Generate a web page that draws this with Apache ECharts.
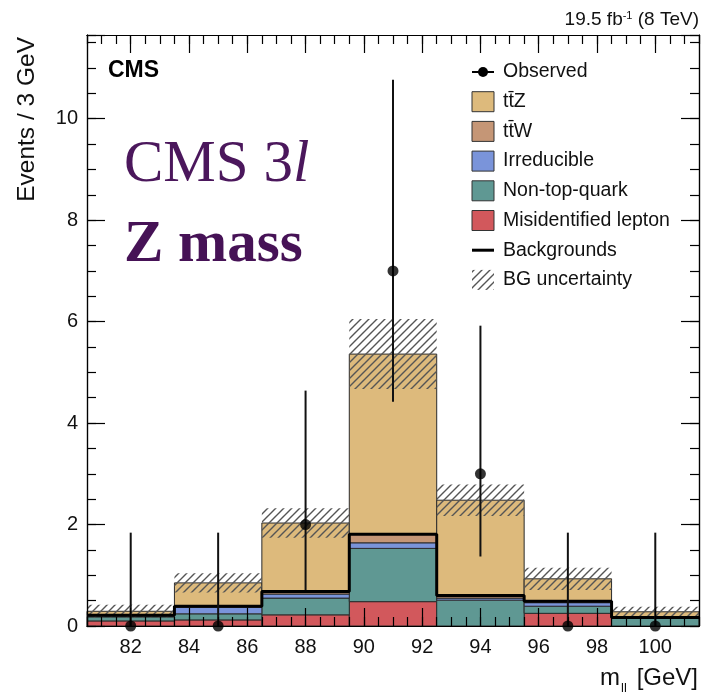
<!DOCTYPE html>
<html>
<head>
<meta charset="utf-8">
<script src="https://cdn.jsdelivr.net/npm/echarts@6/dist/echarts.min.js"></script>
<style>
  html, body { margin: 0; padding: 0; background: #fff; }
  #chart { width: 701px; height: 695px; }
</style>
</head>
<body>
<div id="chart"></div>
<script>
// m_ll distribution, 3 GeV bins
const binCenters = [82, 85, 88, 91, 94, 97, 100];
const binWidth = 3;

// Stacked predictions (bottom to top)
const misidLepton = [0.10, 0.12, 0.22, 0.48, 0.00, 0.25, 0.00];
const nonTopQuark = [0.08, 0.12, 0.33, 1.05, 0.51, 0.14, 0.15];
const irreducible = [0.02, 0.13, 0.08, 0.11, 0.04, 0.07, 0.01];
const ttW = [0.01, 0.02, 0.05, 0.17, 0.05, 0.03, 0.01];
const ttZ = [0.08, 0.46, 1.35, 3.55, 1.88, 0.44, 0.11];
const bgUncertainty = [0.13, 0.19, 0.29, 0.69, 0.31, 0.22, 0.10];

// Data with Poisson intervals
const observed = [0, 0, 2, 7, 3, 0, 0];
const obsLow = [0, 0, 0.71, 4.42, 1.37, 0, 0];
const obsHigh = [1.84, 1.84, 4.64, 10.77, 5.92, 1.84, 1.84];

const xTickLabels = [82, 84, 86, 88, 90, 92, 94, 96, 98, 100];
const yTickLabels = [0, 2, 4, 6, 8, 10];

const X_MIN = 80.5, X_MAX = 101.5, Y_MAX = 11.65;
const SANS = 'Liberation Sans, Arial, Helvetica, sans-serif';
const SERIF = 'Liberation Serif, Times New Roman, serif';

const colors = {
  ttZ: '#DDBA7C',
  ttW: '#C59676',
  irreducible: '#7A94DA',
  nonTop: '#5F9893',
  misid: '#D2585C'
};

function hatchPattern() {
  const c = document.createElement('canvas');
  c.width = 8; c.height = 8;
  const g = c.getContext('2d');
  g.strokeStyle = '#555';
  g.lineWidth = 1.4;
  g.beginPath();
  g.moveTo(0, 8); g.lineTo(8, 0);
  g.moveTo(-2, 2); g.lineTo(2, -2);
  g.moveTo(6, 10); g.lineTo(10, 6);
  g.stroke();
  return { image: c, repeat: 'repeat' };
}
const hatch = hatchPattern();

// cumulative stacking
const layers = [
  { name: 'Misidentified lepton', values: misidLepton, color: colors.misid },
  { name: 'Non-top-quark', values: nonTopQuark, color: colors.nonTop },
  { name: 'Irreducible', values: irreducible, color: colors.irreducible },
  { name: 't\u0074\u0304W', values: ttW, color: colors.ttW },
  { name: 't\u0074\u0304Z', values: ttZ, color: colors.ttZ }
];
const base = binCenters.map(() => 0);
const stackSeries = layers.map((layer, li) => {
  const data = binCenters.map((c, i) => {
    const lo = base[i];
    const hi = lo + layer.values[i];
    base[i] = hi;
    return [c, lo, hi];
  });
  return {
    type: 'custom',
    name: layer.name,
    z: 2 + li * 0.01,
    data: data,
    encode: { x: 0, y: [1, 2] },
    renderItem: function (params, api) {
      const c = api.value(0), lo = api.value(1), hi = api.value(2);
      if (hi - lo <= 0) return null;
      const p1 = api.coord([c - binWidth / 2, hi]);
      const p2 = api.coord([c + binWidth / 2, lo]);
      return {
        type: 'rect',
        shape: { x: p1[0], y: p1[1], width: p2[0] - p1[0], height: p2[1] - p1[1] },
        style: { fill: layer.color, stroke: '#2b2b2b', lineWidth: 1 }
      };
    }
  };
});

const totals = base.slice();
const backgrounds = binCenters.map((c, i) => misidLepton[i] + nonTopQuark[i] + irreducible[i] + ttW[i]);

// hatched uncertainty band around the total prediction
const bandSeries = {
  type: 'custom',
  name: 'BG uncertainty',
  z: 3,
  data: binCenters.map((c, i) => [c, totals[i] - bgUncertainty[i], totals[i] + bgUncertainty[i]]),
  encode: { x: 0, y: [1, 2] },
  renderItem: function (params, api) {
    const c = api.value(0), lo = api.value(1), hi = api.value(2);
    const p1 = api.coord([c - binWidth / 2, hi]);
    const p2 = api.coord([c + binWidth / 2, Math.max(lo, 0)]);
    return {
      type: 'rect',
      shape: { x: p1[0], y: p1[1], width: p2[0] - p1[0], height: p2[1] - p1[1] },
      style: { fill: hatch, stroke: null }
    };
  }
};

// thick step outline of the summed backgrounds
const bgStep = [];
binCenters.forEach((c, i) => {
  bgStep.push([c - binWidth / 2, backgrounds[i]]);
  bgStep.push([c + binWidth / 2, backgrounds[i]]);
});
const bgLineSeries = {
  type: 'line',
  name: 'Backgrounds',
  z: 4,
  data: bgStep,
  symbol: 'none',
  lineStyle: { color: '#000', width: 3 },
  animation: false
};

const errSeries = {
  type: 'custom',
  name: 'Observed errors',
  z: 5,
  data: binCenters.map((c, i) => [c, obsLow[i], obsHigh[i]]),
  encode: { x: 0, y: [1, 2] },
  renderItem: function (params, api) {
    const c = api.value(0);
    const a = api.coord([c, api.value(1)]);
    const b = api.coord([c, api.value(2)]);
    return {
      type: 'line',
      shape: { x1: a[0], y1: a[1], x2: b[0], y2: b[1] },
      style: { stroke: '#111', lineWidth: 2 }
    };
  }
};

const obsSeries = {
  type: 'scatter',
  name: 'Observed',
  z: 6,
  clip: false,
  data: binCenters.map((c, i) => [c, observed[i]]),
  symbol: 'circle',
  symbolSize: 11,
  itemStyle: { color: '#000' }
};

const tickStyle = { color: '#000', width: 1.2 };
function xAxisDef(position, major) {
  const ax = {
    type: 'value', min: X_MIN, max: X_MAX, position: position, z: 10,
    axisLine: { show: true, onZero: false, lineStyle: tickStyle },
    splitLine: { show: false },
    axisLabel: { show: false },
    axisTick: { show: true, inside: true, length: major ? 18 : 9, lineStyle: tickStyle }
  };
  if (major) {
    ax.axisTick.customValues = xTickLabels;
    if (position === 'bottom') {
      ax.axisLabel = { show: true, customValues: xTickLabels, fontSize: 20, color: '#111', fontFamily: SANS, margin: 11 };
    }
  } else {
    ax.interval = 0.5;
  }
  return ax;
}
function yAxisDef(position, major) {
  const ax = {
    type: 'value', min: 0, max: Y_MAX, position: position, z: 10,
    interval: major ? 2 : 0.5,
    axisLine: { show: true, onZero: false, lineStyle: tickStyle },
    splitLine: { show: false },
    axisLabel: { show: false },
    axisTick: { show: true, inside: true, length: major ? 18 : 9, lineStyle: tickStyle }
  };
  if (major && position === 'left') {
    ax.axisLabel = {
      show: true, customValues: yTickLabels, fontSize: 20, color: '#111',
      fontFamily: SANS, margin: 9
    };
  }
  return ax;
}

// legend drawn as graphics
const legX = 472, legTextX = 503, legY0 = 72, legStep = 29.7;
const legendItems = [
  { label: 'Observed', kind: 'point' },
  { label: 't\u0074\u0304Z', kind: 'box', color: colors.ttZ },
  { label: 't\u0074\u0304W', kind: 'box', color: colors.ttW },
  { label: 'Irreducible', kind: 'box', color: colors.irreducible },
  { label: 'Non-top-quark', kind: 'box', color: colors.nonTop },
  { label: 'Misidentified lepton', kind: 'box', color: colors.misid },
  { label: 'Backgrounds', kind: 'line' },
  { label: 'BG uncertainty', kind: 'hatch' }
];
const legendGraphics = [];
legendItems.forEach((it, i) => {
  const y = legY0 + i * legStep;
  if (it.kind === 'point') {
    legendGraphics.push({ type: 'line', shape: { x1: legX, y1: y, x2: legX + 22, y2: y }, style: { stroke: '#000', lineWidth: 2 } });
    legendGraphics.push({ type: 'circle', shape: { cx: legX + 11, cy: y, r: 5 }, style: { fill: '#000' } });
  } else if (it.kind === 'box') {
    legendGraphics.push({ type: 'rect', shape: { x: legX, y: y - 10, width: 22, height: 20 }, style: { fill: it.color, stroke: '#333', lineWidth: 1 } });
  } else if (it.kind === 'line') {
    legendGraphics.push({ type: 'line', shape: { x1: legX, y1: y, x2: legX + 22, y2: y }, style: { stroke: '#000', lineWidth: 3 } });
  } else {
    legendGraphics.push({ type: 'rect', shape: { x: legX, y: y - 10, width: 22, height: 20 }, style: { fill: hatch } });
  }
  legendGraphics.push({
    type: 'text', x: legTextX, y: y,
    style: { text: it.label, font: '19.5px ' + SANS, fill: '#111', verticalAlign: 'middle', align: 'left' }
  });
});

const chart = echarts.init(document.getElementById('chart'), null, { renderer: 'canvas' });
chart.setOption({
  animation: false,
  backgroundColor: '#fff',
  grid: { left: 87, right: 2, top: 35, bottom: 69, containLabel: false },
  xAxis: [xAxisDef('bottom', true), xAxisDef('bottom', false), xAxisDef('top', true), xAxisDef('top', false)],
  yAxis: [yAxisDef('left', true), yAxisDef('left', false), yAxisDef('right', true), yAxisDef('right', false)],
  series: stackSeries.concat([bandSeries, bgLineSeries, errSeries, obsSeries]),
  graphic: [
    {
      type: 'text', x: 27, y: 37, rotation: Math.PI / 2,
      style: { text: 'Events / 3 GeV', font: '24.5px ' + SANS, fill: '#111', align: 'right', verticalAlign: 'middle' }
    },
    { type: 'text', x: 600, y: 678, style: { text: 'm', font: '24px ' + SANS, fill: '#111', verticalAlign: 'middle' } },
    { type: 'text', x: 621, y: 688, style: { text: 'll', font: '13px ' + SANS, fill: '#111', verticalAlign: 'middle' } },
    { type: 'text', x: 698, y: 678, style: { text: '[GeV]', font: '24px ' + SANS, fill: '#111', align: 'right', verticalAlign: 'middle' } },
    {
      type: 'text', x: 699, y: 20,
      style: {
        text: '{a|19.5 fb}{b|-1}{a| (8 TeV)}', align: 'right', verticalAlign: 'middle',
        rich: {
          a: { fontSize: 19, fontFamily: SANS, fill: '#111', verticalAlign: 'bottom' },
          b: { fontSize: 11, fontFamily: SANS, fill: '#111', verticalAlign: 'top' }
        }
      }
    },
    { type: 'text', x: 108, y: 71, style: { text: 'CMS', font: 'bold 23px ' + SANS, fill: '#000', verticalAlign: 'middle' } },
    {
      type: 'text', x: 124, y: 165,
      style: {
        text: '{r|CMS 3}{i|l}', verticalAlign: 'middle',
        rich: {
          r: { fontSize: 59, fontFamily: SERIF, fill: '#4b175c' },
          i: { fontSize: 59, fontFamily: SERIF, fontStyle: 'italic', fill: '#4b175c' }
        }
      }
    },
    { type: 'text', x: 124, y: 246, style: { text: 'Z mass', font: 'bold 59px ' + SERIF, fill: '#461256', verticalAlign: 'middle' } }
  ].concat(legendGraphics)
});
</script>
</body>
</html>
